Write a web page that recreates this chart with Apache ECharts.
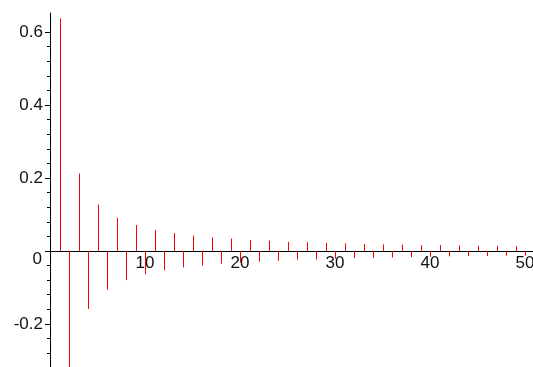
<!DOCTYPE html>
<html>
<head>
<meta charset="utf-8">
<script src="https://cdn.jsdelivr.net/npm/echarts@6/dist/echarts.min.js"></script>
<style>
html,body{margin:0;padding:0;background:#fff;}
#chart{width:533px;height:367px;}
</style>
</head>
<body>
<div id="chart"></div>
<script>
// n values (categories along x)
var nValues = [1,2,3,4,5,6,7,8,9,10,11,12,13,14,15,16,17,18,19,20,21,22,23,24,25,26,27,28,29,30,31,32,33,34,35,36,37,38,39,40,41,42,43,44,45,46,47,48,49,50];
// stem heights
var stemValues = [0.637,-0.318,0.212,-0.159,0.127,-0.106,0.091,-0.080,0.071,-0.064,
                  0.058,-0.053,0.049,-0.045,0.042,-0.040,0.037,-0.035,0.034,-0.032,
                  0.030,-0.029,0.028,-0.027,0.025,-0.024,0.024,-0.023,0.022,-0.021,
                  0.021,-0.020,0.019,-0.019,0.018,-0.018,0.017,-0.017,0.016,-0.016,
                  0.016,-0.015,0.015,-0.014,0.014,-0.014,0.014,-0.013,0.013,-0.013];
var xTickValues = [10,20,30,40,50];
var yMajorTicks = [-0.2,0,0.2,0.4,0.6];
var yMinorTicks = [-0.28,-0.24,-0.16,-0.12,-0.08,-0.04,0.04,0.08,0.12,0.16,0.24,0.28,0.32,0.36,0.44,0.48,0.52,0.56];

var data = nValues.map(function(n,i){ return [n, stemValues[i]]; });

var chart = echarts.init(document.getElementById('chart'));
var labelFont = {fontFamily:'Liberation Sans, Arial, sans-serif', fontSize:17, color:'#111'};
var Y_MIN = -0.318, Y_MAX = 0.652, X_MAX = 50.84;
chart.setOption({
  animation:false,
  grid:[
    {left:50, right:0, top:13, bottom:0, containLabel:false, outerBoundsMode:'none'},
    {left:50, right:0, top:13, height:238, containLabel:false, outerBoundsMode:'none'}
  ],
  xAxis:[{
    gridIndex:0, type:'value', min:0, max:X_MAX, show:false
  },{
    gridIndex:1, type:'value', min:0, max:X_MAX, position:'bottom',
    axisLine:{show:true, onZero:false, lineStyle:{color:'#000', width:1}},
    axisTick:{show:true, customValues:xTickValues, length:4, lineStyle:{color:'#000'}},
    axisLabel:Object.assign({customValues:xTickValues, margin:4}, labelFont),
    splitLine:{show:false}
  }],
  yAxis:[{
    gridIndex:0, type:'value', min:Y_MIN, max:Y_MAX, position:'left',
    axisLine:{show:true, onZero:false, lineStyle:{color:'#000', width:1}},
    axisTick:{show:true, customValues:yMajorTicks, length:5, lineStyle:{color:'#000'}},
    axisLabel:Object.assign({customValues:yMajorTicks, margin:7,
      formatter:function(v){ return v===0 ? '{z|0}' : String(v); },
      rich:{z:{fontFamily:'Liberation Sans, Arial, sans-serif', fontSize:17, color:'#111', padding:[16,1,0,0]}}
    }, labelFont),
    splitLine:{show:false}
  },{
    gridIndex:0, type:'value', min:Y_MIN, max:Y_MAX, position:'left',
    axisLine:{show:false, onZero:false},
    axisTick:{show:true, customValues:yMinorTicks, length:3, lineStyle:{color:'#000'}},
    axisLabel:{show:false},
    splitLine:{show:false}
  },{
    gridIndex:1, type:'value', min:0, max:Y_MAX, show:false
  }],
  series:[{
    type:'custom',
    xAxisIndex:0, yAxisIndex:0,
    data:data,
    encode:{x:0,y:1},
    renderItem:function(params, api){
      var p0 = api.coord([api.value(0), 0]);
      var p1 = api.coord([api.value(0), api.value(1)]);
      var x = Math.round(p0[0]) + 0.5;
      return {
        type:'line',
        shape:{x1:x, y1:p0[1], x2:x, y2:p1[1]},
        style:{stroke:'#ff0000', lineWidth:1}
      };
    }
  }]
});
</script>
</body>
</html>
